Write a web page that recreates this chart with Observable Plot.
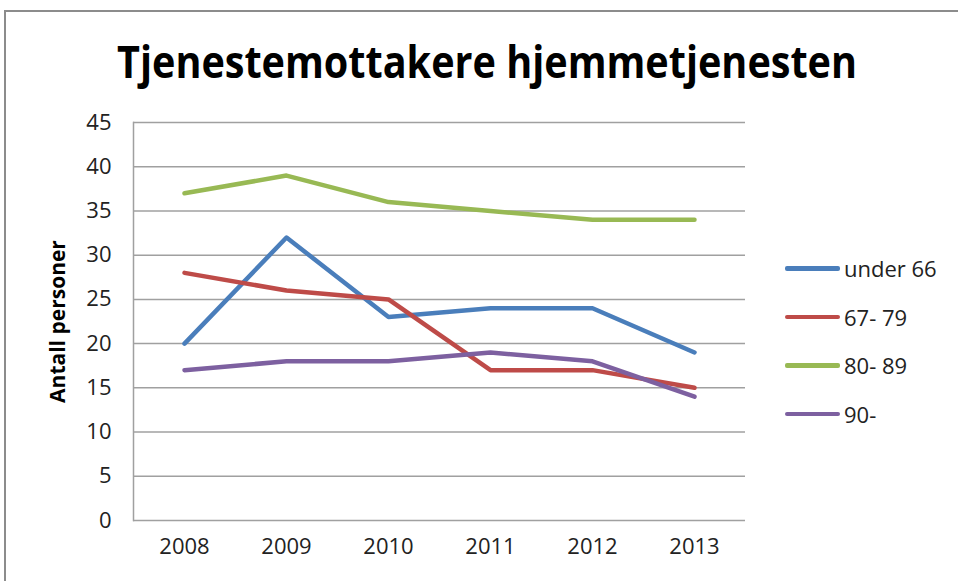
<!DOCTYPE html>
<html>
<head>
<meta charset="utf-8">
<script src="https://cdn.jsdelivr.net/npm/d3@7"></script>
<script src="https://cdn.jsdelivr.net/npm/@observablehq/plot@0.6"></script>
<style>
  html, body { margin: 0; padding: 0; background: #fff; }
  #wrap { position: relative; width: 958px; height: 581px; overflow: hidden; background: #fff; font-family: "Open Sans", sans-serif; }
  #border { position: absolute; left: 4px; top: 10px; width: 960px; height: 600px; border: 2px solid #8c8c8c; box-sizing: border-box; }
  #title { position: absolute; left: 0; top: 0; }
  #chart { position: absolute; left: 0; top: 0; }
  #legend { position: absolute; left: 785px; top: 244px; }
  .item { display: flex; align-items: center; height: 48.5px; font-size: 22px; color: #222; }
  .sw { width: 55px; height: 4.5px; border-radius: 2px; margin-right: 4px; }
</style>
</head>
<body>
<div id="wrap">
  <div id="border"></div>
  <div id="chart"></div>
  <svg id="title" width="958" height="110">
    <text x="487" y="78" text-anchor="middle" font-family="Open Sans" font-weight="bold" font-size="44" fill="#000" textLength="740" lengthAdjust="spacingAndGlyphs">Tjenestemottakere hjemmetjenesten</text>
  </svg>
  <div id="legend"></div>
</div>
<script>
const years = ["2008", "2009", "2010", "2011", "2012", "2013"];
const seriesNames = ["under 66", "67- 79", "80- 89", "90-"];
const under66 = [20, 32, 23, 24, 24, 19];
const age67_79 = [28, 26, 25, 17, 17, 15];
const age80_89 = [37, 39, 36, 35, 34, 34];
const age90 = [17, 18, 18, 19, 18, 14];
const seriesValues = [under66, age67_79, age80_89, age90];
const colors = ["#4a7ebb", "#be4b48", "#98b954", "#7d60a0"];
const yTicks = [0, 5, 10, 15, 20, 25, 30, 35, 40, 45];
const yLabel = "Antall personer";

const data = seriesNames.flatMap((s, i) =>
  years.map((yr, j) => ({ series: s, year: yr, value: seriesValues[i][j] }))
);

const chart = Plot.plot({
  width: 958,
  height: 581,
  marginLeft: 133,
  marginRight: 213,
  marginTop: 122,
  marginBottom: 61,
  style: { fontFamily: "Open Sans", fontSize: "22px", color: "#222", background: "transparent", overflow: "visible" },
  x: { type: "point", domain: years, padding: 0.5 },
  y: { domain: [0, 45] },
  color: { domain: seriesNames, range: colors },
  marks: [
    Plot.ruleY(yTicks, { stroke: "#a0a0a0", strokeWidth: 1.5 }),
    Plot.frame({ anchor: "left", stroke: "#a0a0a0", strokeWidth: 1.5 }),
    Plot.axisY({ ticks: yTicks, tickSize: 0, tickPadding: 22, label: null, fontSize: 22 }),
    Plot.axisX({ tickSize: 0, tickPadding: 18, label: null, fontSize: 22 }),
    Plot.text([yLabel], { frameAnchor: "left", textAnchor: "middle", rotate: -90, dx: -75, fontWeight: "bold", fontSize: 21, fill: "#000" }),
    Plot.line(data, { x: "year", y: "value", stroke: "series", z: "series", strokeWidth: 4.5, strokeLinejoin: "round", strokeLinecap: "round" })
  ]
});
document.getElementById("chart").appendChild(chart);

const legend = document.getElementById("legend");
seriesNames.forEach((s, i) => {
  const item = document.createElement("div");
  item.className = "item";
  const sw = document.createElement("div");
  sw.className = "sw";
  sw.style.background = colors[i];
  const t = document.createElement("span");
  t.textContent = s;
  item.appendChild(sw);
  item.appendChild(t);
  legend.appendChild(item);
});
</script>
</body>
</html>
